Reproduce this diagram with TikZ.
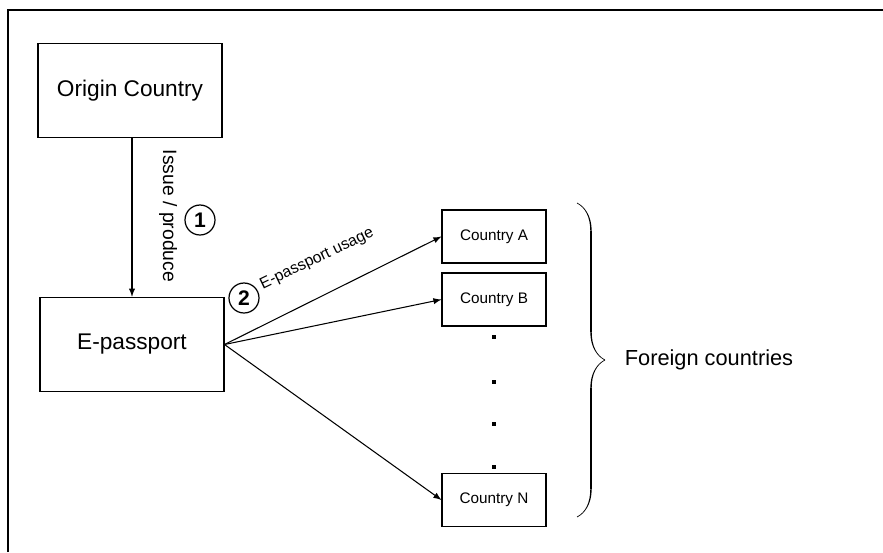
\documentclass[tikz,border=0pt]{standalone}
\usepackage{fontspec}
\setmainfont{Liberation Sans}
\usepackage{tikz}
\usetikzlibrary{decorations.pathreplacing, calligraphy}
\tikzstyle{bigbox}=[draw, line width=0.6pt, minimum width=3.68cm, minimum height=1.89cm, font=\fontsize{12.9}{15}\selectfont]
\tikzstyle{smallbox}=[draw, line width=0.6pt, minimum width=2.08cm, minimum height=1.06cm, font=\fontsize{8.7}{10}\selectfont]
\tikzstyle{numcirc}=[draw, circle, line width=0.7pt, minimum size=0.6cm, inner sep=0pt, font=\fontsize{12}{14}\selectfont\bfseries]
\tikzstyle{arr}=[line width=0.6pt, -latex]

\begin{document}
\begin{tikzpicture}[x=0.02cm, y=-0.02cm]
        \useasboundingbox (0,0) rectangle (883,552);
        \draw[line width=0.9pt] (8,552) -- (8,10) -- (883,10);
        \node[bigbox] (origin) at (130,90.5) {Origin Country};
        \node[bigbox] (epass) at (132,344.5) {E-passport};
        \node[smallbox] (ctrya) at (494,236.5) {Country A};
        \node[smallbox] (ctryb) at (494,299.5) {Country B};
        \node[smallbox] (ctryn) at (494,500) {Country N};
        \draw[arr] (epass.north |- origin.south) -- (epass.north);
        \node[rotate=-90, font=\fontsize{11}{13}\selectfont] (issue) at (168,216) {Issue / produce};
        \node[numcirc] (one) at (200,220) {1};
        \node[numcirc] (two) at (244,298) {2};
        \node[rotate=25.7, font=\fontsize{9}{11}\selectfont] (usage) at (317,259) {E-passport usage};
        \draw[arr] (epass.east) -- (ctrya.west);
        \draw[arr] (epass.east) -- (ctryb.west);
        \draw[arr] (epass.east) -- (ctryn.west);
        \foreach \y in {337,382,424,467}
            \fill (491.5,\y-2) rectangle (495.5,\y+2);
        \draw [decorate,decoration={calligraphic brace,amplitude=0.56cm}, line width=0.8pt] (577,203) -- (577,517);
        \node[font=\fontsize{12.4}{15}\selectfont] (foreign) at (709,360) {Foreign countries};
    \end{tikzpicture}
\end{document}
